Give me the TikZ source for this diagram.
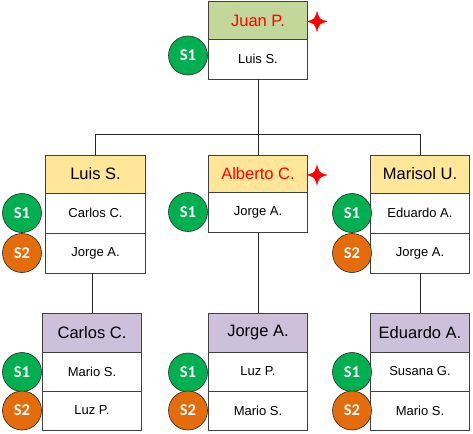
\documentclass[tikz,border=0pt]{standalone}
\usepackage{fontspec}
\setmainfont{Liberation Sans}
\newfontfamily\badgefont{Carlito}
\definecolor{hgreen}{HTML}{C4D79B}
\definecolor{hyellow}{HTML}{FFE699}
\definecolor{hpurple}{HTML}{CCC0DA}
\definecolor{sgreen}{HTML}{00B050}
\definecolor{sorange}{HTML}{E46C0A}
\definecolor{boxline}{HTML}{404040}
\begin{document}
\begin{tikzpicture}[x=1pt,y=-1pt,
  hdr/.style={draw=boxline, line width=0.9pt, minimum width=99.5pt, minimum height=38pt, inner sep=0pt, font=\fontsize{16.5}{18}\selectfont},
  rowbox/.style={draw=boxline, line width=0.9pt, fill=white, minimum width=99.5pt, minimum height=39.5pt, inner sep=0pt, font=\fontsize{13}{15}\selectfont},
  badge/.style={circle, draw=black!85, line width=0.6pt, minimum size=39pt, inner sep=0pt, text=white, font=\badgefont\bfseries\fontsize{16.5}{18}\selectfont},
  sone/.style={badge, fill=sgreen},
  stwo/.style={badge, fill=sorange},
  starmark/.style={fill=red, draw=red, line width=0.3pt},
  conn/.style={draw=black!85, line width=0.8pt}
]
\useasboundingbox (0,0) rectangle (473,433);

% top
\node[hdr, fill=hgreen, text=red, minimum height=37.5pt] (jh) at (258,20.5) {Juan P.};
\node[rowbox, minimum height=40pt] (jr1) at (258,59) {Luis S.};
\node[sone] (js1) at (188,55.5) {S1};
\coordinate (jstar) at (317,21.5);

% level 2 left
\node[hdr, fill=hyellow] (lh) at (95.5,174) {Luis S.};
\node[rowbox, minimum height=40pt] (lr1) at (95.5,213) {Carlos C.};
\node[rowbox, minimum height=40pt] (lr2) at (95.5,253) {Jorge A.};
\node[sone] (ls1) at (22,213) {S1};
\node[stwo] (ls2) at (22,253) {S2};

% level 2 middle
\node[hdr, fill=hyellow, text=red] (mh) at (258,174) {Alberto C.};
\node[rowbox] (mr1) at (258,212.5) {Jorge A.};
\node[sone] (ms1) at (188,212) {S1};
\coordinate (mstar) at (317,175);

% level 2 right
\node[hdr, fill=hyellow] (rh) at (420,174) {Marisol U.};
\node[rowbox, minimum height=40pt] (rr1) at (420,213) {Eduardo A.};
\node[rowbox, minimum height=40pt] (rr2) at (420,253) {Jorge A.};
\node[sone] (rs1) at (352,213) {S1};
\node[stwo] (rs2) at (352,253) {S2};

% level 3 left
\node[hdr, fill=hpurple, minimum height=39pt] (clh) at (92,332.5) {Carlos C.};
\node[rowbox, minimum height=39pt] (clr1) at (92,371.5) {Mario S.};
\node[rowbox, minimum height=39pt] (clr2) at (92,410.5) {Luz P.};
\node[sone] (cls1) at (22,372) {S1};
\node[stwo] (cls2) at (22,410.5) {S2};

% level 3 middle
\node[hdr, fill=hpurple, minimum height=39pt] (cmh) at (258,332.5) {Jorge A.};
\node[rowbox, minimum height=39pt] (cmr1) at (258,371.5) {Luz P.};
\node[rowbox, minimum height=39pt] (cmr2) at (258,410.5) {Mario S.};
\node[sone] (cms1) at (188,372.5) {S1};
\node[stwo] (cms2) at (188,410.5) {S2};

% level 3 right
\node[hdr, fill=hpurple, minimum height=39pt] (crh) at (420,332.5) {Eduardo A.};
\node[rowbox, minimum height=39pt] (crr1) at (420,371.5) {Susana G.};
\node[rowbox, minimum height=39pt] (crr2) at (420,410.5) {Mario S.};
\node[sone] (crs1) at (352,372) {S1};
\node[stwo] (crs2) at (352,410.5) {S2};

% stars
\foreach \s in {jstar,mstar}{
  \path[starmark, shift={(\s)}] (0,-10) .. controls (2.2,-2.2) .. (10,0)
     .. controls (2.2,2.2) .. (0,10) .. controls (-2.2,2.2) .. (-10,0)
     .. controls (-2.2,-2.2) .. (0,-10) -- cycle;
}

% connectors
\coordinate (bus) at (258,134);
\draw[conn] (jr1.south) -- (bus);
\draw[conn] (bus) -| (lh.north);
\draw[conn] (bus) -| (rh.north);
\draw[conn] (bus) -- (mh.north);
\draw[conn] (clh.north |- lr2.south) -- (clh.north);
\draw[conn] (mr1.south) -- (cmh.north);
\draw[conn] (rr2.south) -- (crh.north);
\end{tikzpicture}
\end{document}
